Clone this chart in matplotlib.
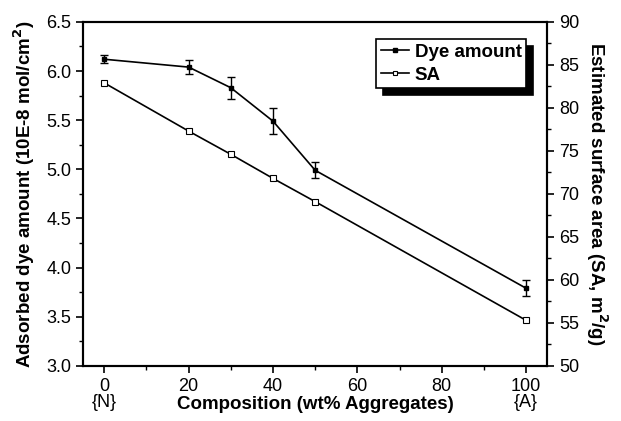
import matplotlib.pyplot as plt
from matplotlib.lines import Line2D
from matplotlib.ticker import MultipleLocator

plt.rcParams['font.family'] = ['Liberation Sans', 'DejaVu Sans']

# --- Data ---
composition = [0, 20, 30, 40, 50, 100]
dye_amount = [6.12, 6.04, 5.83, 5.49, 4.99, 3.79]
dye_err = [0.04, 0.07, 0.11, 0.13, 0.08, 0.08]
surface_area = [82.9, 77.3, 74.6, 71.8, 69.1, 55.3]

fig = plt.figure(figsize=(6.21, 4.21), dpi=100)
ax = fig.add_axes([0.134, 0.131, 0.747, 0.817])
ax2 = ax.twinx()

ax.errorbar(composition, dye_amount, yerr=dye_err, color='black', lw=1.2,
            marker='s', ms=3.5, mfc='black', capsize=3, elinewidth=1)
ax2.plot(composition, surface_area, color='black', lw=1.2, marker='s',
         ms=4, mfc='white', mew=0.8)

ax.set_xlim(-5, 105)
ax.set_ylim(3.0, 6.5)
ax2.set_ylim(50, 90)

ax.xaxis.set_major_locator(MultipleLocator(20))
ax.xaxis.set_minor_locator(MultipleLocator(10))
ax.yaxis.set_major_locator(MultipleLocator(0.5))
ax.yaxis.set_minor_locator(MultipleLocator(0.25))
ax.yaxis.set_major_formatter(plt.FormatStrFormatter('%.1f'))
ax2.yaxis.set_major_locator(MultipleLocator(5))
ax2.yaxis.set_minor_locator(MultipleLocator(2.5))

for a in (ax, ax2):
    a.tick_params(which='major', direction='out', length=5, width=1.2, labelsize=13)
    a.tick_params(which='minor', direction='out', length=3, width=1)
    for s in a.spines.values():
        s.set_linewidth(1.5)

ax.set_xlabel('Composition (wt% Aggregates)', fontsize=13.5, fontweight='bold', labelpad=1)
ax.set_ylabel('Adsorbed dye amount (10E-8 mol/cm$^\\mathbf{2}$)', fontsize=13.5,
              fontweight='bold', labelpad=7)
ax2.set_ylabel('Estimated surface area (SA, m$^\\mathbf{2}$/g)', fontsize=13.5,
               fontweight='bold', rotation=270, labelpad=22)

for xv, tag in [(0, '{N}'), (100, '{A}')]:
    ax.text(xv, -0.106, tag, transform=ax.get_xaxis_transform(), ha='center',
            va='center', fontsize=13)

handles = [Line2D([], [], color='black', lw=1.2, marker='s', ms=3, mfc='black'),
           Line2D([], [], color='black', lw=1.2, marker='s', ms=3.5, mfc='white', mew=0.8)]
leg = ax.legend(handles, ['Dye amount', 'SA'], loc='upper right',
                bbox_to_anchor=(0.955, 0.95), fancybox=False, edgecolor='black',
                framealpha=1, handlelength=1.5, handletextpad=0.3,
                borderpad=0.25, labelspacing=0.3, borderaxespad=0,
                shadow={'color': 'black', 'alpha': 1, 'ox': 5, 'oy': -5},
                prop={'weight': 'bold', 'size': 13.5})
leg.get_frame().set_linewidth(1.2)

fig.savefig('out.png', dpi=100)
